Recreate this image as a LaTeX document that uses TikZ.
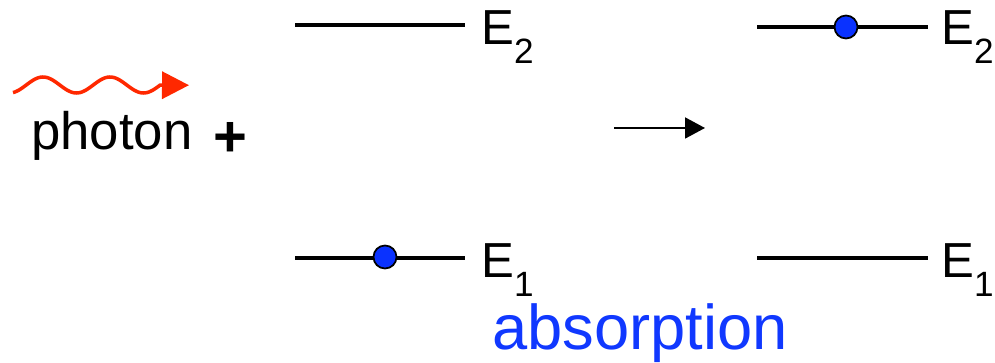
\documentclass[tikz,border=0pt]{standalone}
\usepackage{fontspec}
\setmainfont{Liberation Sans}
\usepackage{tikz}
\usetikzlibrary{arrows.meta}
\definecolor{photred}{RGB}{255,40,0}
\definecolor{absblue}{RGB}{16,56,255}
\definecolor{elecblue}{RGB}{10,50,255}
\newcommand{\lvlname}[1]{E\raisebox{-10.5pt}{\fontsize{20}{20}\selectfont #1}}
\tikzset{
  lvl/.style={line width=2.8pt, black},
  elec/.style={circle, draw=black, line width=1pt, fill=elecblue, minimum size=4.6mm, inner sep=0pt},
  lbl/.style={anchor=base west, inner sep=0pt, font=\fontsize{28}{28}\selectfont},
  trans/.style={-{Triangle[length=4mm,width=4.2mm]}, line width=1.1pt},
  phot/.style={-{Triangle[length=5.4mm,width=5.4mm]}, line width=2pt, photred},
}

\begin{document}
\begin{tikzpicture}[x=0.2mm,y=-0.2mm]
  \useasboundingbox (0,0) rectangle (995,363);
  % --- incoming photon ---
  \draw[phot] plot[domain=13:160, samples=80, smooth] (\x, {85-8*cos(5.373*(\x-43))}) -- (189,85.2);
  \node[anchor=base west, inner sep=0pt, font=\fontsize{30}{30}\selectfont] (phlbl) at (31,150) {photon};
  \node[inner sep=0pt, font=\fontsize{33}{33}\selectfont\bfseries] (plus) at (230,139) {+};

  % --- before: electron in E1 ---
  \coordinate (bu1) at (295,25);  \coordinate (bu2) at (465,25);
  \coordinate (bl1) at (295,258); \coordinate (bl2) at (465,258);
  \draw[lvl] (bu1) -- (bu2);
  \draw[lvl] (bl1) -- (bl2);
  \node[lbl] (bE2) at (481,45) {\lvlname{2}};
  \node[lbl] (bE1) at (481,278) {\lvlname{1}};
  \node[elec] (bel) at (385,257) {};

  % --- transition ---
  \coordinate (tr1) at (614,128);
  \coordinate (tr2) at (705,128);
  \draw[trans] (tr1) -- (tr2);

  % --- after: electron in E2 ---
  \coordinate (au1) at (757,27);  \coordinate (au2) at (928,27);
  \coordinate (al1) at (757,258); \coordinate (al2) at (928,258);
  \draw[lvl] (au1) -- (au2);
  \draw[lvl] (al1) -- (al2);
  \node[lbl] (aE2) at (941,45) {\lvlname{2}};
  \node[lbl] (aE1) at (941,278) {\lvlname{1}};
  \node[elec] (ael) at (846,27) {};

  \node[anchor=base west, inner sep=0pt, font=\fontsize{36}{36}\selectfont, absblue] (abs) at (492,350) {absorption};
\end{tikzpicture}
\end{document}
